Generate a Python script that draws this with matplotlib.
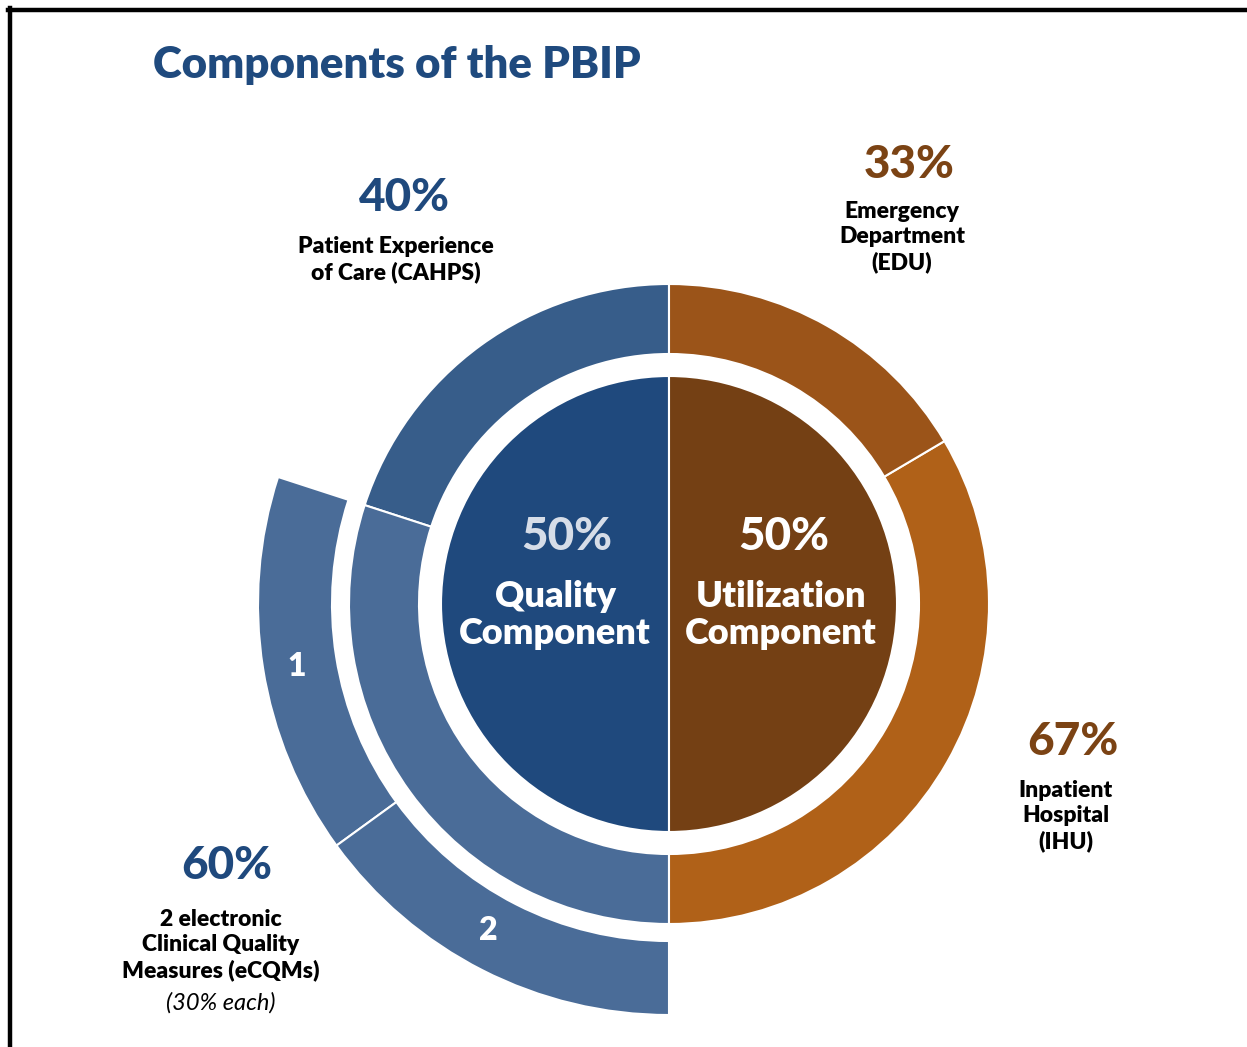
import matplotlib.pyplot as plt
from matplotlib.lines import Line2D

plt.rcParams['font.family'] = ['Lato', 'DejaVu Sans']

W, H = 1247, 1047

# inner pie: the two halves of the PBIP
components = ['Quality\nComponent', 'Utilization\nComponent']
component_share = [50, 50]

# middle ring, counterclockwise from the top: Patient Experience, eCQMs, IHU, EDU
ring_labels = ['Patient Experience\nof Care (CAHPS)', '2 electronic\nClinical Quality\nMeasures (eCQMs)',
               'Inpatient\nHospital\n(IHU)', 'Emergency\nDepartment\n(EDU)']
ring_pct = [40, 60, 67, 33]          # share inside each half
ring_half = [0, 0, 1, 1]             # which half it belongs to

# outer ring: the two eCQMs, 30% each of the quality half
ecqm_names = ['1', '2']
ecqm_pct = [30, 30]

c_quality = '#1f497d'
c_util = '#744014'
ring_colors = ['#375d8a', '#4a6c98', '#b06118', '#9b5419']
c_outer = '#4a6c98'
c_title = '#1f4a7e'
c_brown = '#7b4314'

fig = plt.figure(figsize=(W / 100, H / 100), dpi=100)
ax = fig.add_axes([0, 0, 1, 1])
ax.axis('off')

cx, cy = 669, H - 604

def y(py):
    return H - py

# inner pie
ax.pie(component_share, colors=[c_quality, c_util], startangle=90, counterclock=True,
       radius=228, center=(cx, cy), frame=True,
       wedgeprops=dict(edgecolor='white', linewidth=1.5))

# middle ring
ring_vals = [p * component_share[h] / 100 for p, h in zip(ring_pct, ring_half)]
ax.pie(ring_vals, colors=ring_colors, startangle=90, counterclock=True,
       radius=320, center=(cx, cy), frame=True,
       wedgeprops=dict(width=70, edgecolor='white', linewidth=1.5))

# outer ring: only the eCQM part is drawn
outer_vals = [ring_vals[0]] + [p * component_share[0] / 100 for p in ecqm_pct] + [component_share[1]]
wedges, _ = ax.pie(outer_vals, colors=['none', c_outer, c_outer, 'none'], startangle=90,
                   counterclock=True, radius=411, center=(cx, cy), frame=True,
                   wedgeprops=dict(width=74, edgecolor='white', linewidth=1.5))
wedges[0].set_visible(False)
wedges[-1].set_visible(False)

ax.set_xlim(0, W)
ax.set_ylim(0, H)
ax.set_aspect('auto')
ax.axis('off')

# frame lines (top and left)
fig.add_artist(Line2D([8 / W, 1], [y(10) / H, y(10) / H], color='black', lw=3.2))
fig.add_artist(Line2D([9.5 / W, 9.5 / W], [0, y(8) / H], color='black', lw=3.2))

ax.text(153, y(65), 'Components of the PBIP', fontsize=31.5, fontweight='heavy',
        color=c_title, ha='left', va='center')

# ring labels
pct_fs = 33
lab_fs = 16.5
ls = 1.25
lw_ = 'heavy'
ax.text(404, y(198), '40%', fontsize=pct_fs, fontweight='black', color=c_quality, ha='center', va='center')
ax.text(396, y(260), ring_labels[0], fontsize=lab_fs, fontweight=lw_, color='black',
        ha='center', va='center', linespacing=ls)

ax.text(909, y(165), '33%', fontsize=pct_fs, fontweight='black', color=c_brown, ha='center', va='center')
ax.text(902, y(237), ring_labels[3], fontsize=lab_fs, fontweight=lw_, color='black',
        ha='center', va='center', linespacing=ls)

ax.text(1073, y(742), '67%', fontsize=pct_fs, fontweight='black', color=c_brown, ha='center', va='center')
ax.text(1066, y(816), ring_labels[2], fontsize=lab_fs, fontweight=lw_, color='black',
        ha='center', va='center', linespacing=ls)

ax.text(227, y(866), '60%', fontsize=pct_fs, fontweight='black', color=c_quality, ha='center', va='center')
ax.text(221, y(945), ring_labels[1], fontsize=lab_fs, fontweight=lw_, color='black',
        ha='center', va='center', linespacing=ls)
ax.text(221, y(1003), '(30% each)', fontsize=17, fontstyle='italic', color='black',
        ha='center', va='center')

# outer ring numbers
ax.text(297, y(666), ecqm_names[0], fontsize=23, fontweight='heavy', color='white', ha='center', va='center')
ax.text(488, y(930), ecqm_names[1], fontsize=23, fontweight='heavy', color='white', ha='center', va='center')

# inner pie labels
ax.text(567, y(537), '%d%%' % component_share[0], fontsize=pct_fs, fontweight='black',
        color='#d6dde8', ha='center', va='center')
ax.text(555, y(615), components[0], fontsize=26, fontweight='heavy', color='white',
        ha='center', va='center', linespacing=1.15)
ax.text(784, y(537), '%d%%' % component_share[1], fontsize=pct_fs, fontweight='black',
        color='white', ha='center', va='center')
ax.text(781, y(615), components[1], fontsize=26, fontweight='heavy', color='white',
        ha='center', va='center', linespacing=1.15)

fig.savefig('out.png', dpi=100, facecolor='white')
